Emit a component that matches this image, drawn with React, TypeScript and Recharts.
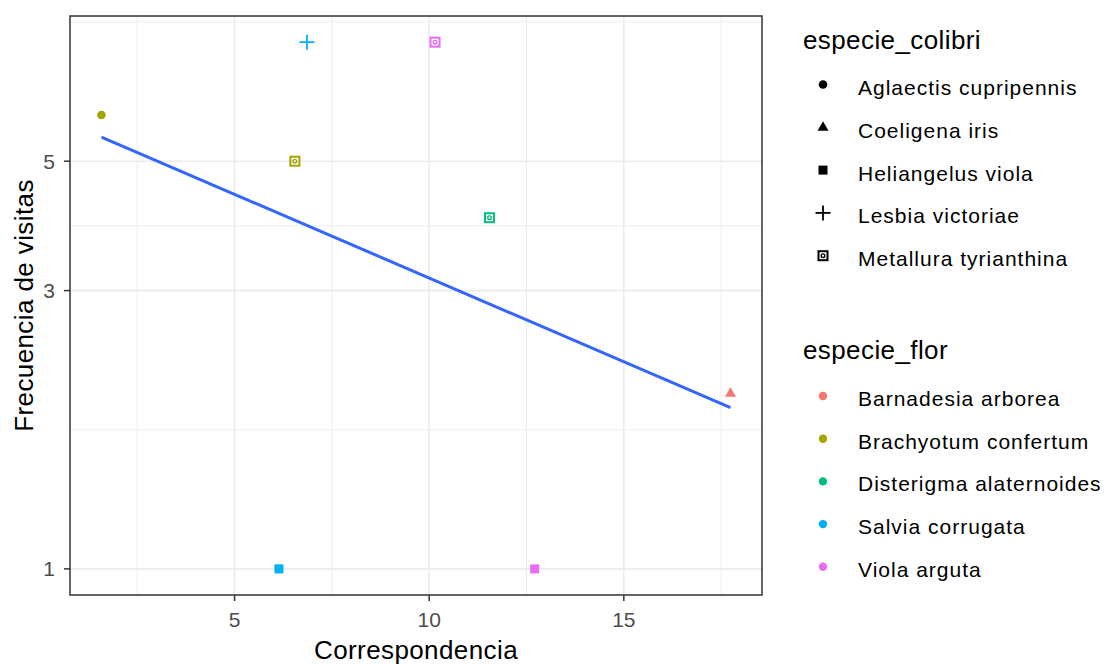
import React from 'react';
import { ScatterChart, Scatter, XAxis, YAxis, CartesianGrid, ReferenceArea, Legend } from 'recharts';

// ---- data ----
const correspondencia = [1.58, 6.86, 6.55, 10.15, 11.55, 6.14, 12.71, 17.74];
const frecuencia = [6, 8, 5, 8, 4, 1, 1, 2];
const especieFlor = [
  'Brachyotum confertum',
  'Salvia corrugata',
  'Brachyotum confertum',
  'Viola arguta',
  'Disterigma alaternoides',
  'Salvia corrugata',
  'Viola arguta',
  'Barnadesia arborea',
];
const especieColibri = [
  'Aglaectis cupripennis',
  'Lesbia victoriae',
  'Metallura tyrianthina',
  'Metallura tyrianthina',
  'Metallura tyrianthina',
  'Heliangelus viola',
  'Heliangelus viola',
  'Coeligena iris',
];

const florLevels = [
  'Barnadesia arborea',
  'Brachyotum confertum',
  'Disterigma alaternoides',
  'Salvia corrugata',
  'Viola arguta',
];
const florColors = ['#F8766D', '#A3A500', '#00BF7D', '#00B0F6', '#E76BF3'];
const colibriLevels = [
  'Aglaectis cupripennis',
  'Coeligena iris',
  'Heliangelus viola',
  'Lesbia victoriae',
  'Metallura tyrianthina',
];
const colibriShapes = ['circle', 'triangle', 'square', 'plus', 'squareCircle'];

// fitted trend line (endpoints)
const trendX = [1.58, 17.74];
const trendY = [5.5, 1.89];

// axes
const xTicks = [5, 10, 15];
const xMinorBreaks = [2.5, 7.5, 12.5, 17.5];
const yTicks = [1, 3, 5];
const yMinorBreaks = [1.732, 3.873, 8.66];
const xDomain = [0.772, 18.55];
const yDomain = [0.902, 8.87];

const xTitle = 'Correspondencia';
const yTitle = 'Frecuencia de visitas';
const colibriTitle = 'especie_colibri';
const florTitle = 'especie_flor';

const points = correspondencia.map((x, i) => ({
  x,
  y: frecuencia[i],
  flor: especieFlor[i],
  colibri: especieColibri[i],
}));
const trend = trendX.map((x, i) => ({ x, y: trendY[i] }));

const FONT = '"Liberation Sans", Arial, sans-serif';

function Marker({ shape, color, cx, cy }: { shape: string; color: string; cx: number; cy: number }) {
  switch (shape) {
    case 'circle':
      return <circle cx={cx} cy={cy} r={4.3} fill={color} />;
    case 'triangle':
      return (
        <polygon
          points={`${cx},${cy - 6} ${cx - 5.5},${cy + 3.5} ${cx + 5.5},${cy + 3.5}`}
          fill={color}
        />
      );
    case 'square':
      return <rect x={cx - 4.5} y={cy - 4.5} width={9} height={9} fill={color} />;
    case 'plus':
      return (
        <g stroke={color} strokeWidth={1.8}>
          <line x1={cx - 7.5} y1={cy} x2={cx + 7.5} y2={cy} />
          <line x1={cx} y1={cy - 7.5} x2={cx} y2={cy + 7.5} />
        </g>
      );
    case 'squareCircle':
    default:
      return (
        <g fill="none" stroke={color}>
          <rect x={cx - 4.5} y={cy - 4.5} width={9} height={9} strokeWidth={2} />
          <circle cx={cx} cy={cy} r={1.8} strokeWidth={1.4} />
        </g>
      );
  }
}

const shapeOf = (c: string) => colibriShapes[colibriLevels.indexOf(c)];
const colorOf = (f: string) => florColors[florLevels.indexOf(f)];

const LegendContent = () => (
  <svg
    width={318}
    height={664}
    style={{ position: 'absolute', left: 0, top: 0, overflow: 'visible', fontFamily: FONT }}
  >
    <text x={13} y={48.5} fontSize={26} letterSpacing={0.4} fill="#000">
      {colibriTitle}
    </text>
    {colibriLevels.map((name, i) => {
      const base = 95 + i * 42.8;
      return (
        <g key={name}>
          <Marker shape={colibriShapes[i]} color="#000" cx={33} cy={base - 10.5} />
          <text x={68} y={base} fontSize={21} letterSpacing={1} fill="#000">
            {name}
          </text>
        </g>
      );
    })}
    <text x={13} y={358.5} fontSize={26} letterSpacing={0.4} fill="#000">
      {florTitle}
    </text>
    {florLevels.map((name, i) => {
      const base = 406 + i * 42.7;
      return (
        <g key={name}>
          <circle cx={33} cy={base - 10} r={4.2} fill={florColors[i]} />
          <text x={68} y={base} fontSize={21} letterSpacing={1} fill="#000">
            {name}
          </text>
        </g>
      );
    })}
  </svg>
);

const XTick = (p: any) => (
  <text x={p.x} y={p.y} dy={23.5} textAnchor="middle" fontSize={21} fill="#4D4D4D" fontFamily={FONT}>
    {p.payload.value}
  </text>
);

const YTick = (p: any) => (
  <text x={p.x} y={p.y} dx={-7} dy={7.5} textAnchor="end" fontSize={21} fill="#4D4D4D" fontFamily={FONT}>
    {p.payload.value}
  </text>
);

const XLabel = (p: any) => {
  const vb = p.viewBox || { x: 70, y: 595, width: 692, height: 69 };
  return (
    <text
      x={vb.x + vb.width / 2}
      y={vb.y + 64}
      textAnchor="middle"
      fontSize={26}
      letterSpacing={0.4}
      fill="#000"
      fontFamily={FONT}
    >
      {xTitle}
    </text>
  );
};

const YLabel = (p: any) => {
  const vb = p.viewBox || { x: 0, y: 16, width: 70, height: 579 };
  const cx = vb.x + 33;
  const cy = vb.y + vb.height / 2;
  return (
    <text
      x={cx}
      y={cy}
      transform={`rotate(-90, ${cx}, ${cy})`}
      textAnchor="middle"
      fontSize={26}
      letterSpacing={0.4}
      fill="#000"
      fontFamily={FONT}
    >
      {yTitle}
    </text>
  );
};

export default function App() {
  return (
    <div
      style={{
        position: 'absolute',
        left: 0,
        top: 0,
        width: 1108,
        height: 664,
        background: '#fff',
        fontFamily: FONT,
      }}
    >
      <ScatterChart width={1108} height={664} margin={{ top: 16, right: 346, bottom: 0, left: 0 }}>
        <CartesianGrid
          horizontalValues={yMinorBreaks}
          verticalValues={xMinorBreaks}
          stroke="#EBEBEB"
          strokeWidth={0.9}
        />
        <CartesianGrid horizontalValues={yTicks} verticalValues={xTicks} stroke="#EBEBEB" strokeWidth={1.6} />
        <XAxis
          type="number"
          dataKey="x"
          domain={xDomain}
          allowDataOverflow
          ticks={xTicks}
          interval={0}
          height={69}
          tickSize={6}
          tickLine={{ stroke: '#333333', strokeWidth: 1.5 }}
          axisLine={false}
          tick={XTick}
          label={XLabel}
        />
        <YAxis
          type="number"
          dataKey="y"
          scale="log"
          domain={yDomain}
          allowDataOverflow
          ticks={yTicks}
          interval={0}
          width={70}
          tickSize={6}
          tickLine={{ stroke: '#333333', strokeWidth: 1.5 }}
          axisLine={false}
          tick={YTick}
          label={YLabel}
        />
        <ReferenceArea
          x1={xDomain[0]}
          x2={xDomain[1]}
          y1={yDomain[0]}
          y2={yDomain[1]}
          fill="none"
          fillOpacity={0}
          stroke="#333333"
          strokeWidth={1.5}
          ifOverflow="visible"
        />
        <Scatter
          data={trend}
          isAnimationActive={false}
          line={{ stroke: '#3366FF', strokeWidth: 3 }}
          lineType="joint"
          legendType="none"
          shape={() => <g />}
        />
        <Scatter
          data={points}
          isAnimationActive={false}
          legendType="none"
          shape={(p: any) => (
            <Marker shape={shapeOf(p.payload.colibri)} color={colorOf(p.payload.flor)} cx={p.cx} cy={p.cy} />
          )}
        />
        <Legend
          layout="horizontal"
          verticalAlign="middle"
          align="center"
          content={LegendContent}
          wrapperStyle={{ left: 790, top: 0, width: 318, height: 664 }}
        />
      </ScatterChart>
    </div>
  );
}
